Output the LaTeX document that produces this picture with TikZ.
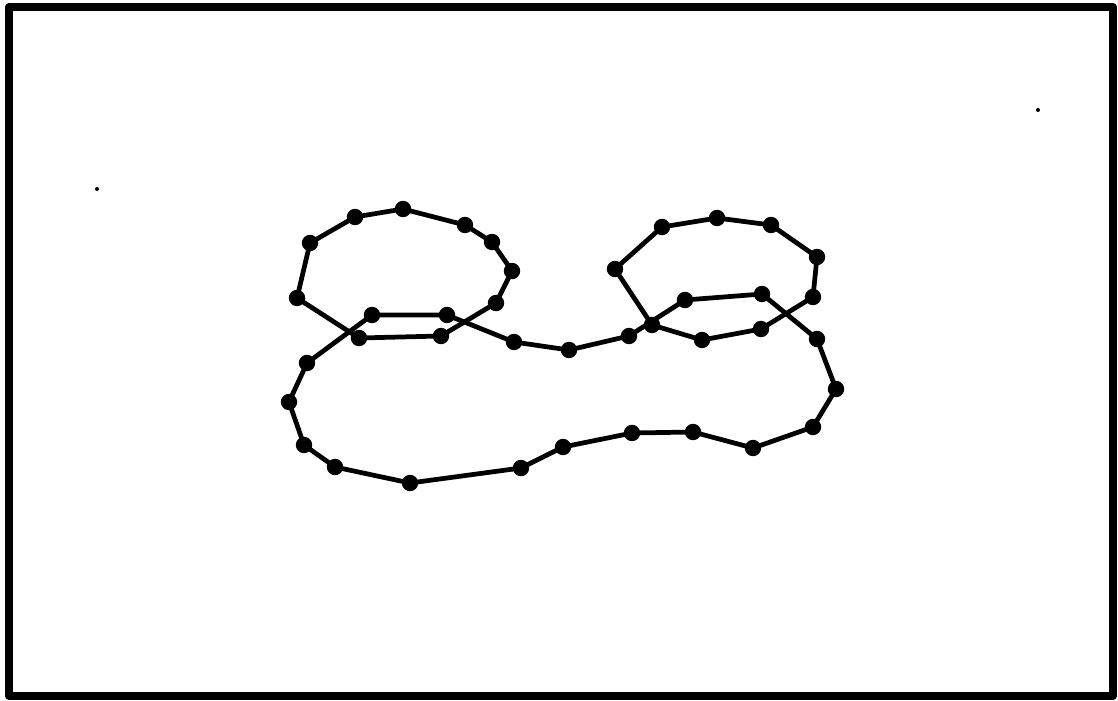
\documentclass[tikz,border=0pt]{standalone}
\usetikzlibrary{plotmarks}

\begin{document}
\begin{tikzpicture}[x=0.02cm,y=-0.02cm,line width=2.7pt,line join=round,
  contour/.style={mark=*,mark size=3.3pt,mark options={solid}}]
\useasboundingbox (0,0) rectangle (1118,700);
\fill[white] (0,0) rectangle (1118,700);
\draw[line width=4.6pt] (9,7) rectangle (1113,696);

% left loop
\draw plot[contour] coordinates {(297,298) (310,243) (355,217) (403,209) (465,225) (492,242) (512,271) (496,303) (441,336) (359,338)} -- cycle;

% right loop
\draw plot[contour] coordinates {(615,269) (662,227) (717,218) (771,225) (817,257) (813,297) (761,329) (702,340) (652,325)} -- cycle;

% outer contour
\draw plot[contour] coordinates {(307,363) (372,315) (447,315) (514,342) (569,350) (629,336) (685,300) (762,294) (817,339) (836,389) (813,427) (753,448) (693,432) (632,433) (563,447) (521,468) (410,483) (335,467) (304,445) (289,402)} -- cycle;

\fill (97,189) circle (2);
\fill (1038,110) circle (2);
\end{tikzpicture}
\end{document}
